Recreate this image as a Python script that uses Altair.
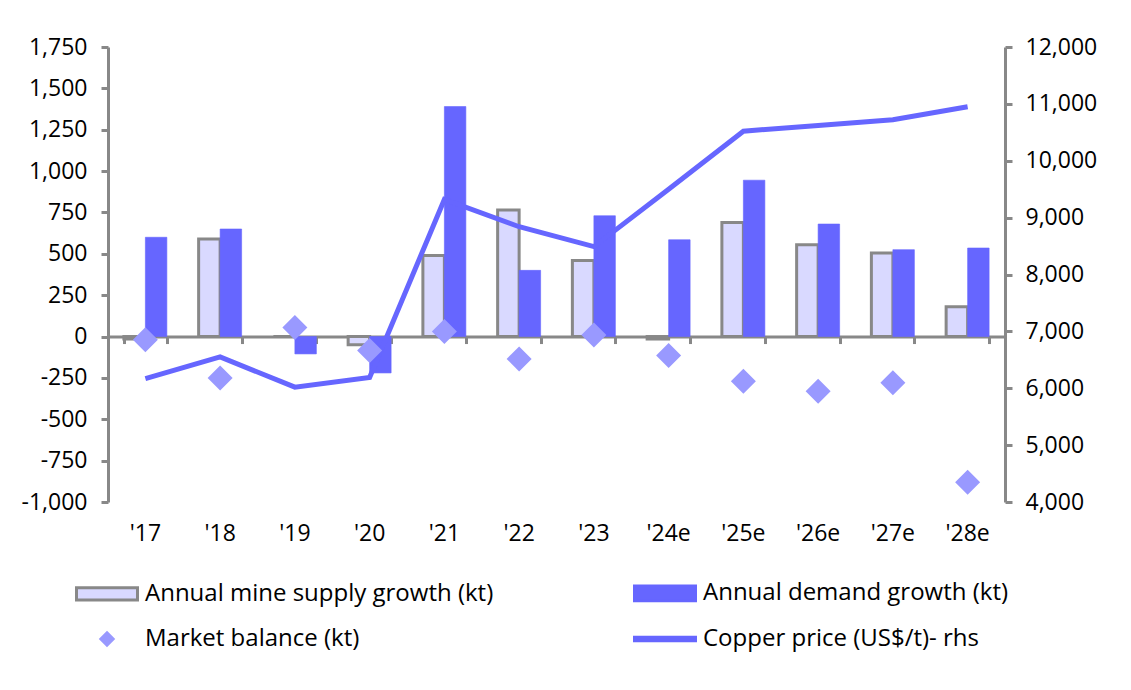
import altair as alt
import pandas as pd

years = ["'17", "'18", "'19", "'20", "'21", "'22", "'23", "'24e", "'25e", "'26e", "'27e", "'28e"]
supply = [-15, 590, 0, -50, 490, 765, 460, -15, 690, 555, 505, 180]
demand = [600, 650, -105, -220, 1390, 400, 730, 585, 945, 680, 525, 535]
balance = [-20, -250, 55, -85, 30, -135, 10, -115, -270, -330, -280, -880]
price = [6170, 6550, 6020, 6190, 9320, 8840, 8490, 9500, 10520, 10620, 10720, 10950]

left_ticks = [-1000, -750, -500, -250, 0, 250, 500, 750, 1000, 1250, 1500, 1750]
right_ticks = [4000, 5000, 6000, 7000, 8000, 9000, 10000, 11000, 12000]

S_SUP = "Annual mine supply growth (kt)"
S_DEM = "Annual demand growth (kt)"
S_BAL = "Market balance (kt)"
S_PRI = "Copper price (US$/t)- rhs"
# legend fills columns first: column 1 = supply, balance; column 2 = demand, price
series = [S_SUP, S_BAL, S_DEM, S_PRI]

df_sup = pd.DataFrame({"year": years, "value": supply, "series": S_SUP})
df_dem = pd.DataFrame({"year": years, "value": demand, "series": S_DEM})
df_bal = pd.DataFrame({"year": years, "value": balance, "series": S_BAL})
df_pri = pd.DataFrame({"year": years, "value": price, "series": S_PRI})

FONT = "Open Sans"
FS = 23
GRAY = "#888888"
W, H = 897, 455

x_scale = alt.Scale(domain=years, paddingInner=0.425, paddingOuter=0.2125)
off_scale = alt.Scale(domain=[S_SUP, S_DEM])
y_left = alt.Scale(domain=[left_ticks[0], left_ticks[-1]], nice=False, zero=False)
y_right = alt.Scale(domain=[right_ticks[0], right_ticks[-1]], nice=False, zero=False)
fill_scale = alt.Scale(domain=series, range=["#D9D9FF", "#9999FF", "#6666FF", "#6666FF"])
stroke_scale = alt.Scale(domain=series, range=[GRAY, "#9999FF", "#6666FF", "#6666FF"])
shape_scale = alt.Scale(
    domain=series,
    range=[
        "M-1,-0.2H1V0.2H-1Z",
        "M0,-0.2L0.2,0L0,0.2L-0.2,0Z",
        "M-1,-0.24H1V0.24H-1Z",
        "M-1,-0.06H1V0.06H-1Z",
    ],
)

legend = alt.Legend(
    title=None,
    orient="none",
    legendX=-33,
    legendY=514,
    columns=2,
    symbolSize=3721,
    symbolStrokeWidth=3,
    labelFont=FONT,
    labelFontSize=24,
    labelColor="black",
    labelOffset=6,
    labelLimit=700,
    columnPadding=134,
    rowPadding=-17,
    padding=0,
)

zero_offset = -H * (0 - left_ticks[0]) / (left_ticks[-1] - left_ticks[0])
hyphen = "replace(datum.label, '\u2212', '-')"

x_zero_axis = alt.Axis(
    title=None, orient="bottom", labels=False, domain=True, domainColor=GRAY, domainWidth=3,
    ticks=True, tickColor=GRAY, tickWidth=3, tickSize=7, tickBand="extent",
    offset=zero_offset, grid=False,
)
x_label_axis = alt.Axis(
    title=None, orient="bottom", domain=False, ticks=False, tickSize=0, labelPadding=20,
    labelFont=FONT, labelFontSize=FS, labelColor="black", labelAngle=0, grid=False,
)
left_axis = alt.Axis(
    title=None, orient="left", values=left_ticks, format=",.0f", labelExpr=hyphen,
    domainColor=GRAY, domainWidth=3,
    tickColor=GRAY, tickWidth=3, tickSize=7, labelPadding=14, labelFont=FONT,
    labelFontSize=FS, labelColor="black", grid=False,
)
right_axis = alt.Axis(
    title=None, orient="right", values=right_ticks, format=",.0f", domainColor=GRAY, domainWidth=3,
    tickColor=GRAY, tickWidth=3, tickSize=7, labelPadding=13, labelFont=FONT,
    labelFontSize=FS, labelColor="black", grid=False,
)

sup = alt.Chart(df_sup).mark_bar(strokeWidth=3).encode(
    x=alt.X("year:N", scale=x_scale, sort=years, axis=x_zero_axis),
    xOffset=alt.XOffset("series:N", scale=off_scale),
    y=alt.Y("value:Q", scale=y_left, axis=left_axis),
    fill=alt.Fill("series:N", scale=fill_scale, legend=legend),
    stroke=alt.Stroke("series:N", scale=stroke_scale, legend=legend),
)

dem = alt.Chart(df_dem).mark_bar(strokeWidth=1, strokeOpacity=0.6).encode(
    x=alt.X("year:N", scale=x_scale, sort=years, axis=None),
    xOffset=alt.XOffset("series:N", scale=off_scale),
    y=alt.Y("value:Q", scale=y_left, axis=None),
    fill=alt.Fill("series:N", scale=fill_scale, legend=legend),
    stroke=alt.Stroke("series:N", scale=stroke_scale, legend=legend),
)

line = alt.Chart(df_pri).mark_line(strokeWidth=5).encode(
    x=alt.X("year:N", scale=x_scale, sort=years, axis=None),
    y=alt.Y("value:Q", scale=y_right, axis=right_axis),
    stroke=alt.Stroke("series:N", scale=stroke_scale, legend=legend),
)

pts = alt.Chart(df_bal).mark_point(filled=True, size=15625, opacity=1, strokeWidth=0).encode(
    x=alt.X("year:N", scale=x_scale, sort=years, axis=x_label_axis),
    y=alt.Y("value:Q", scale=y_left, axis=None),
    fill=alt.Fill("series:N", scale=fill_scale, legend=legend),
    stroke=alt.Stroke("series:N", scale=stroke_scale, legend=legend),
    shape=alt.Shape("series:N", scale=shape_scale, legend=legend),
)

chart = (
    alt.layer(sup, dem, line, pts)
    .resolve_scale(y="independent")
    .resolve_axis(x="independent")
    .properties(
        width=W,
        height=H,
        autosize=alt.AutoSizeParams(type="none"),
        padding={"left": 100, "top": 39, "right": 118, "bottom": 180},
        background="white",
    )
    .configure_view(stroke=None)
)

chart.save("out.html", embed_options={"renderer": "svg", "actions": False})
